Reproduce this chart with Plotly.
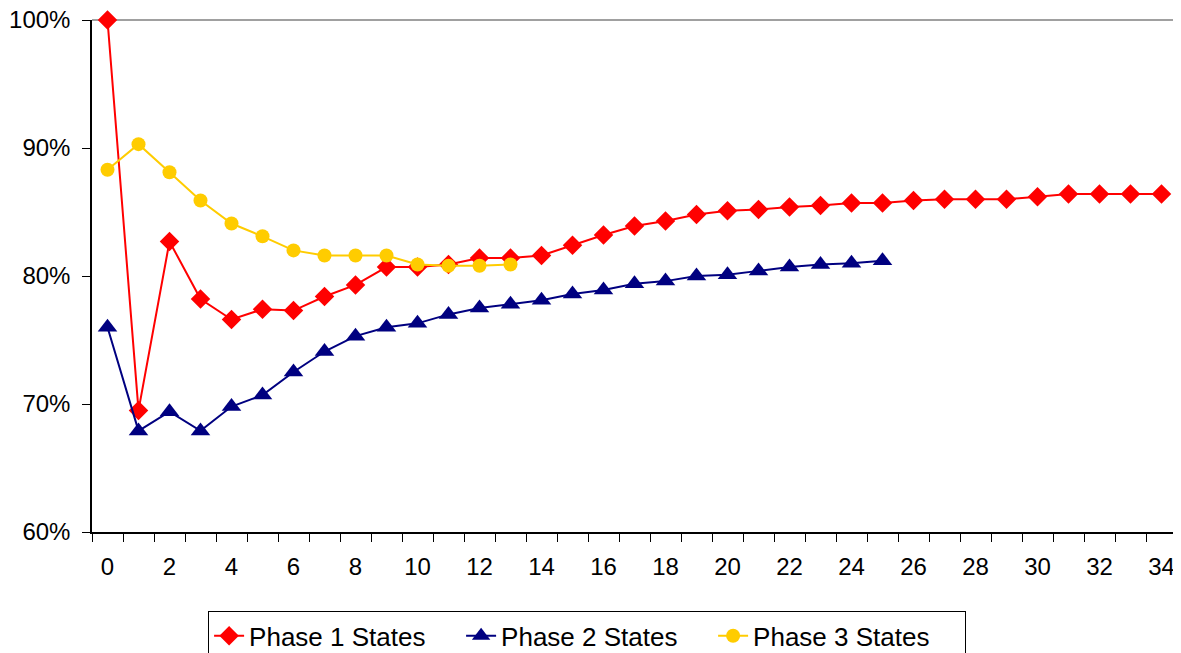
import plotly.graph_objects as go

months = list(range(35))
phase1 = [1.000, 0.695, 0.827, 0.782, 0.766, 0.774, 0.773, 0.784, 0.793, 0.807,
          0.807, 0.809, 0.814, 0.814, 0.816, 0.824, 0.832, 0.839, 0.843, 0.848,
          0.851, 0.852, 0.854, 0.855, 0.857, 0.857, 0.859, 0.860, 0.860, 0.860,
          0.862, 0.864, 0.864, 0.864, 0.864]
phase2 = [0.760, 0.679, 0.694, 0.679, 0.698, 0.707, 0.725, 0.741, 0.753, 0.760,
          0.763, 0.770, 0.775, 0.778, 0.781, 0.786, 0.789, 0.794, 0.796, 0.800,
          0.801, 0.804, 0.807, 0.809, 0.810, 0.812]
phase3 = [0.883, 0.903, 0.881, 0.859, 0.841, 0.831, 0.820, 0.816, 0.816, 0.816,
          0.809, 0.808, 0.808, 0.809]
names = ["Phase 1 States", "Phase 2 States", "Phase 3 States"]
label_ticks = list(range(0, 35, 2))
boundary_ticks = [i - 0.5 for i in range(36)]

fig = go.Figure()
fig.add_trace(go.Scatter(x=months[:len(phase1)], y=phase1, name=names[0], mode="lines+markers",
                         line=dict(color="#FF0000", width=2),
                         marker=dict(symbol="diamond", size=15, color="#FF0000"), cliponaxis=False))
fig.add_trace(go.Scatter(x=months[:len(phase2)], y=phase2, name=names[1], mode="lines+markers",
                         line=dict(color="#000080", width=2),
                         marker=dict(symbol="triangle-up", size=17, color="#000080"), cliponaxis=False))
fig.add_trace(go.Scatter(x=months[:len(phase3)], y=phase3, name=names[2], mode="lines+markers",
                         line=dict(color="#FFCC00", width=2),
                         marker=dict(symbol="circle", size=14, color="#FFCC00"), cliponaxis=False))

fig.update_layout(
    width=1181, height=653,
    margin=dict(l=84, r=12, t=12, b=129, autoexpand=False),
    paper_bgcolor="white", plot_bgcolor="white",
    font=dict(family="Liberation Sans, Arial, sans-serif", size=24, color="black"),
    showlegend=True,
    legend=dict(orientation="h", x=0.107, xanchor="left", y=-0.155, yanchor="top",
                bordercolor="black", borderwidth=1, font=dict(size=26),
                entrywidth=207, entrywidthmode="pixels", tracegroupgap=0),
    xaxis=dict(range=[-0.5, 34.5], tickmode="array", tickvals=label_ticks,
               ticktext=[str(v) for v in label_ticks], ticks="", showgrid=False,
               zeroline=False, showline=True, linecolor="black", linewidth=1.5,
               automargin=False, ticklabeloverflow="allow",
               minor=dict(tickmode="array", tickvals=boundary_ticks, ticks="outside",
                          ticklen=8, tickcolor="black", tickwidth=1, showgrid=False),
               tickfont=dict(size=24), ticklabelstandoff=12),
    yaxis=dict(range=[0.6, 1.0], tickmode="array", tickvals=[0.6, 0.7, 0.8, 0.9, 1.0],
               tickformat=".0%", ticks="outside", ticklen=8, tickcolor="black",
               showgrid=False, zeroline=False, showline=True, linecolor="black",
               linewidth=1.5, tickfont=dict(size=24), automargin=False,
               ticklabeloverflow="allow", ticklabelstandoff=7),
)
fig.add_shape(type="line", xref="paper", yref="paper", x0=0, x1=1, y0=1, y1=1,
              line=dict(color="#808080", width=1.5), layer="below")
fig.add_shape(type="line", xref="paper", yref="paper", x0=1, x1=1, y0=0, y1=1,
              line=dict(color="#808080", width=1.5), layer="below")

fig.write_html("out.html")
